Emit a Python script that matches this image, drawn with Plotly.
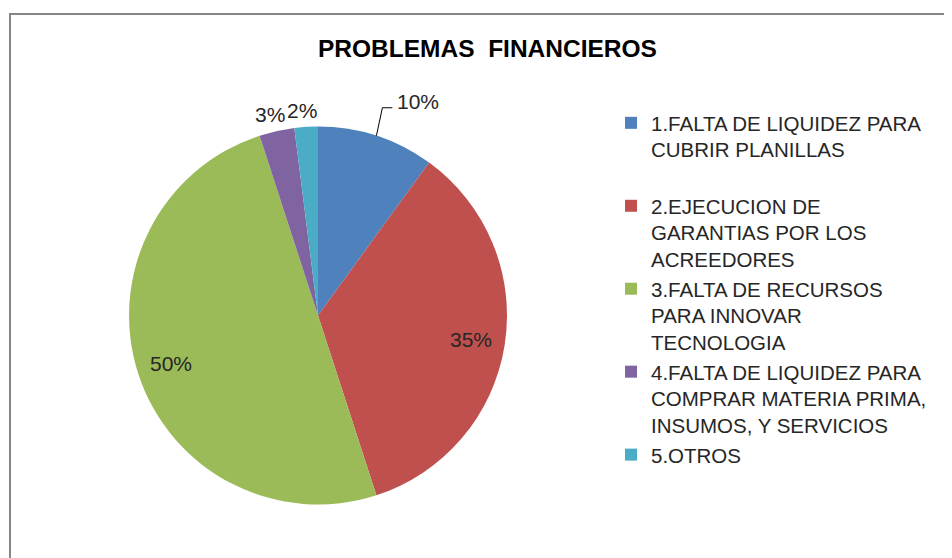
import math
import plotly.graph_objects as go

W, H = 952, 558
OFF = 8  # page body margin in the browser

categories = [
    "1.FALTA DE LIQUIDEZ PARA<br>CUBRIR PLANILLAS<br> ",
    "2.EJECUCION DE<br>GARANTIAS POR LOS<br>ACREEDORES",
    "3.FALTA DE RECURSOS<br>PARA INNOVAR<br>TECNOLOGIA",
    "4.FALTA DE LIQUIDEZ PARA<br>COMPRAR MATERIA PRIMA,<br>INSUMOS, Y SERVICIOS",
    "5.OTROS",
]
values = [10, 35, 50, 3, 2]
colors = ["#4F81BD", "#C0504D", "#9BBB59", "#8064A2", "#4BACC6"]

# pie geometry in screen pixels
cx, cy, R = 318, 315.5, 189

def px_x(x):
    return (x - OFF) / W

def px_y(y):
    return 1 - (y - OFF) / H

fig = go.Figure()

fig.add_trace(go.Pie(
    labels=categories,
    values=values,
    marker=dict(colors=colors),
    sort=False,
    direction="clockwise",
    rotation=0,
    textinfo="none",
    hoverinfo="label+percent",
    domain=dict(x=[px_x(cx - R), px_x(cx + R)], y=[px_y(cy + R), px_y(cy - R)]),
))

# data labels placed from the slice angles
total = sum(values)
annotations = []
shapes = []
cum = 0
font = dict(family="Liberation Sans, Arial", size=21, color="#262626")
for i, v in enumerate(values):
    mid = (cum + v / 2) / total * 2 * math.pi
    cum += v
    pct = f"{round(v / total * 100)}%"
    s, c = math.sin(mid), math.cos(mid)
    if v >= 20:
        r = 0.82 * R
        lx, ly, anchor = cx + r * s, cy - r * c, "center"
    elif i == 0:
        # leader line for the first small slice
        ex, ey = cx + R * s, cy - R * c
        kx, ky = ex + 6, ey - 28
        shapes.append(dict(type="path", xref="paper", yref="paper",
                           path=f"M {px_x(ex)} {px_y(ey)} L {px_x(kx)} {px_y(ky)} L {px_x(kx + 10)} {px_y(ky)}",
                           line=dict(color="#000000", width=1)))
        lx, ly, anchor = kx + 13, ky - 6, "left"
    else:
        r = 1.1 * R
        lx, ly, anchor = cx + r * s - 3, cy - r * c + 2, "center"
    annotations.append(dict(x=px_x(lx), y=px_y(ly), text=pct, xanchor=anchor, yanchor="middle",
                            showarrow=False, font=font, xref="paper", yref="paper"))

annotations.append(dict(x=px_x(487), y=px_y(48), text="<b>PROBLEMAS  FINANCIEROS</b>",
                        xanchor="center", yanchor="middle",
                        showarrow=False, xref="paper", yref="paper",
                        font=dict(family="Liberation Sans, Arial", size=24.5, color="#000000")))

# chart area border
shapes.append(dict(type="rect", xref="paper", yref="paper",
                   x0=px_x(10), y0=px_y(H + 30), x1=px_x(W + 30), y1=px_y(14),
                   line=dict(color="#868686", width=2)))

fig.update_layout(
    width=W,
    height=H,
    margin=dict(l=0, r=0, t=0, b=0),
    paper_bgcolor="white",
    plot_bgcolor="white",
    showlegend=True,
    legend=dict(
        x=px_x(611), y=px_y(103), xanchor="left", yanchor="top",
        font=dict(family="Liberation Sans, Arial", size=20.5, color="#262626"),
        valign="top",
        bgcolor="rgba(0,0,0,0)",
    ),
    annotations=annotations,
    shapes=shapes,
)

fig.write_html("out.html")
